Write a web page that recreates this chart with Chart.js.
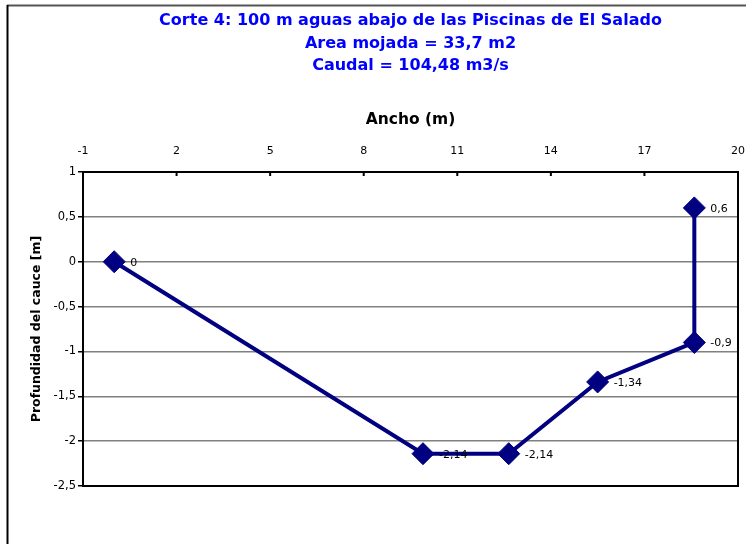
<!DOCTYPE html>
<html>
<head>
<meta charset="utf-8">
<script src="https://cdn.jsdelivr.net/npm/chart.js@4/dist/chart.umd.min.js"></script>
<style>
  html, body { margin: 0; padding: 0; background: #fff; }
  #wrap { width: 746px; height: 544px; }
</style>
</head>
<body>
<div id="wrap"><canvas id="corteChart" width="746" height="544"></canvas></div>
<script>
// Corte 4
var anchos = [0, 9.9, 12.65, 15.5, 18.6, 18.6];
var profundidades = [0, -2.14, -2.14, -1.34, -0.9, 0.6];
var tituloLineas = [
    'Corte 4: 100 m aguas abajo de las Piscinas de El Salado',
    'Area mojada = 33,7 m2',
    'Caudal = 104,48 m3/s'
];
var tituloX = 'Ancho (m)';
var tituloY = 'Profundidad del cauce [m]';

function coma(v) {
    return String(Math.round(v * 100) / 100).replace('.', ',');
}

var puntos = anchos.map(function (x, i) { return { x: x, y: profundidades[i] }; });

// marco exterior, borde del area de trazado y marcas del eje superior
var marcoPlugin = {
    id: 'marco',
    beforeDraw: function (chart) {
        var ctx = chart.ctx;
        ctx.save();
        ctx.fillStyle = '#fff';
        ctx.fillRect(0, 0, chart.width, chart.height);
        ctx.strokeStyle = '#555';
        ctx.lineWidth = 2;
        ctx.beginPath();
        ctx.moveTo(7, 5.5);
        ctx.lineTo(chart.width, 5.5);
        ctx.stroke();
        ctx.strokeStyle = '#000';
        ctx.beginPath();
        ctx.moveTo(7.5, 5);
        ctx.lineTo(7.5, chart.height);
        ctx.stroke();
        ctx.restore();
    },
    beforeDatasetsDraw: function (chart) {
        var ctx = chart.ctx;
        var a = chart.chartArea;
        var sx = chart.scales.x;
        ctx.save();
        ctx.strokeStyle = '#000';
        ctx.lineWidth = 2;
        ctx.strokeRect(a.left, a.top, a.right - a.left, a.bottom - a.top);
        ctx.beginPath();
        sx.ticks.forEach(function (t) {
            var px = sx.getPixelForValue(t.value);
            ctx.moveTo(px, a.top);
            ctx.lineTo(px, a.top + 4);
        });
        ctx.stroke();
        ctx.restore();
    }
};

// etiquetas de valor a la derecha de cada punto
var etiquetasPlugin = {
    id: 'etiquetas',
    afterDatasetsDraw: function (chart) {
        var ctx = chart.ctx;
        var meta = chart.getDatasetMeta(0);
        ctx.save();
        ctx.font = '11px "DejaVu Sans"';
        ctx.fillStyle = '#000';
        ctx.textAlign = 'left';
        ctx.textBaseline = 'middle';
        meta.data.forEach(function (p, i) {
            ctx.fillText(coma(profundidades[i]), p.x + 16, p.y + 1);
        });
        ctx.restore();
    }
};

var ctx = document.getElementById('corteChart').getContext('2d');
var chart = new Chart(ctx, {
    type: 'scatter',
    data: {
        datasets: [{
            data: puntos,
            showLine: true,
            borderColor: '#000080',
            backgroundColor: '#000080',
            borderWidth: 4,
            pointStyle: 'rectRot',
            pointRadius: 11,
            pointBorderWidth: 1,
            pointBackgroundColor: '#000080',
            pointBorderColor: '#000080',
            clip: false
        }]
    },
    options: {
        responsive: false,
        animation: false,
        layout: { autoPadding: false, padding: { top: 0, left: 0, right: 8, bottom: 58 } },
        plugins: {
            legend: { display: false },
            tooltip: { enabled: false },
            title: {
                display: true,
                fullSize: false,
                text: tituloLineas,
                color: '#0000ff',
                font: { family: 'DejaVu Sans', size: 16, weight: 'bold', lineHeight: 1.4 },
                padding: { top: 10, bottom: 0 }
            }
        },
        scales: {
            x: {
                type: 'linear',
                position: 'top',
                min: -1,
                max: 20,
                ticks: {
                    stepSize: 3,
                    color: '#000',
                    padding: 14,
                    font: { family: 'DejaVu Sans', size: 11 }
                },
                grid: { display: false, drawTicks: false },
                border: { display: false },
                title: {
                    display: true,
                    text: tituloX,
                    color: '#000',
                    font: { family: 'DejaVu Sans', size: 15.5, weight: 'bold' },
                    padding: { top: 33.5, bottom: 0 }
                },
                afterFit: function (scale) {
                    scale.height = 172 - 77.2;
                    scale.paddingLeft = 0;
                    scale.paddingRight = 0;
                }
            },
            y: {
                min: -2.5,
                max: 1,
                ticks: {
                    stepSize: 0.5,
                    color: '#000',
                    padding: 2,
                    font: { family: 'DejaVu Sans', size: 11.5 },
                    callback: function (v) { return coma(v); }
                },
                grid: {
                    color: '#808080',
                    lineWidth: 1.5,
                    tickLength: 5,
                    tickColor: '#000'
                },
                border: { display: false },
                title: {
                    display: true,
                    text: tituloY,
                    color: '#000',
                    font: { family: 'DejaVu Sans', size: 12.5, weight: 'bold' },
                    padding: { top: 29.5, bottom: 0 }
                },
                afterFit: function (scale) {
                    scale.width = 83;
                    scale.paddingTop = 0;
                    scale.paddingBottom = 0;
                }
            }
        }
    },
    plugins: [marcoPlugin, etiquetasPlugin]
});
</script>
</body>
</html>
